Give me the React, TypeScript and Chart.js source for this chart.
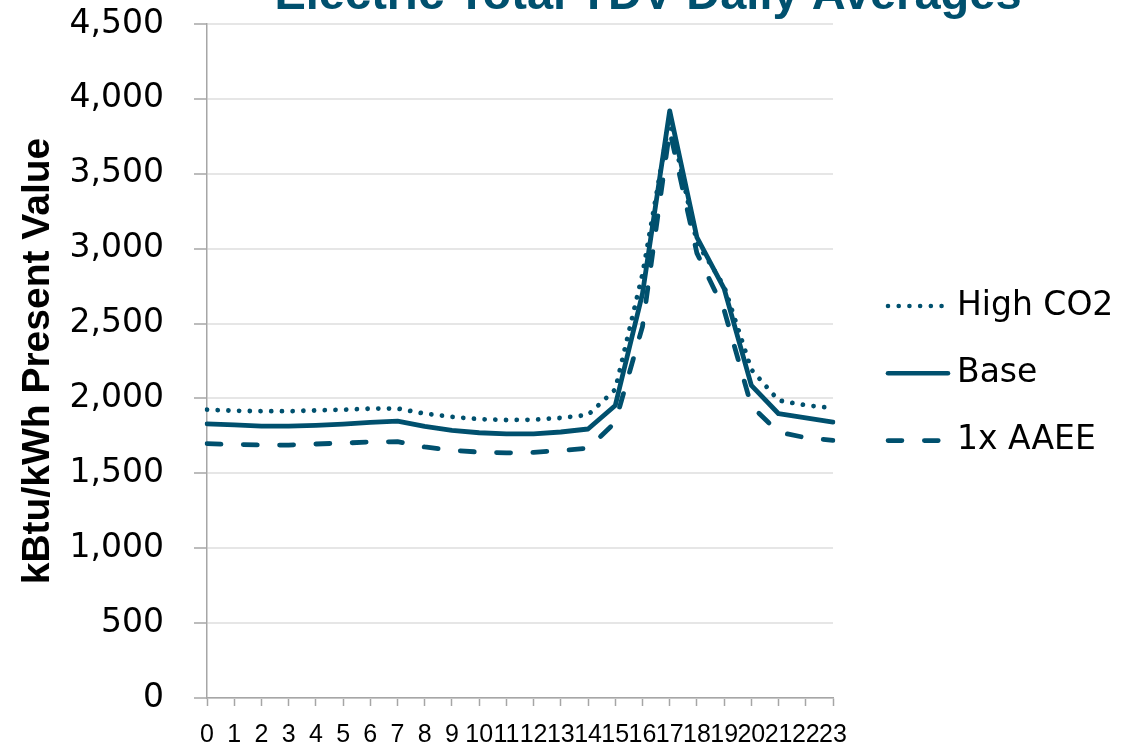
import React, { useEffect, useRef } from 'react';
import { Chart, registerables } from 'chart.js';

Chart.register(...registerables);

// ---- data ----
const HOURS = ['0','1','2','3','4','5','6','7','8','9','10','11','12','13','14','15','16','17','18','19','20','21','22','23'];
const HIGH_CO2 = [1925,1918,1915,1915,1920,1925,1932,1933,1899,1877,1862,1856,1858,1870,1890,2060,2830,3870,3040,2750,2193,1987,1955,1935];
const BASE = [1830,1824,1815,1815,1820,1829,1840,1849,1813,1787,1771,1764,1764,1776,1796,1953,2700,3920,3075,2733,2087,1898,1871,1842];
const AAEE_1X = [1698,1693,1689,1689,1696,1702,1709,1711,1676,1653,1642,1636,1640,1653,1667,1840,2480,3790,2970,2590,1950,1775,1738,1720];
const SERIES_NAMES = ['High CO2', 'Base', '1x AAEE'];
const Y_MIN = 0;
const Y_MAX = 4500;
const Y_STEP = 500;
const CHART_TITLE = 'Electric Total TDV Daily Averages';
const Y_TITLE = 'kBtu/kWh Present Value';

const TEAL = '#00506e';
const AXIS_GRAY = '#a6a6a6';
const GRID_GRAY = '#e6e6e6';

export default function App() {
  const ref = useRef<HTMLCanvasElement | null>(null);

  useEffect(() => {
    document.body.style.margin = '0';
    const canvas = ref.current;
    if (!canvas) return;

    const clippedTitle = {
      id: 'clippedTitle',
      afterDraw(chart: any) {
        const ctx = chart.ctx;
        ctx.save();
        ctx.font = 'bold 47px "Liberation Sans"';
        ctx.fillStyle = TEAL;
        ctx.textAlign = 'center';
        ctx.textBaseline = 'alphabetic';
        ctx.fillText(CHART_TITLE, 648, 9);
        ctx.restore();
      },
    };

    const sideLegend = {
      id: 'sideLegend',
      afterDraw(chart: any) {
        const ctx = chart.ctx;
        const x0 = 888;
        const x1 = 948;
        const tx = 957;
        const top = 306;
        const gap = 67.3;
        chart.data.datasets.forEach((ds: any, i: number) => {
          const y = top + i * gap;
          ctx.save();
          ctx.strokeStyle = ds.borderColor;
          ctx.lineWidth = 4.6;
          ctx.lineCap = 'round';
          ctx.setLineDash(ds.borderDash || []);
          ctx.beginPath();
          ctx.moveTo(x0, y);
          ctx.lineTo(x1, y);
          ctx.stroke();
          ctx.setLineDash([]);
          ctx.font = '33px "DejaVu Sans"';
          ctx.fillStyle = '#000';
          ctx.textAlign = 'left';
          ctx.textBaseline = 'middle';
          ctx.fillText(ds.label, tx, y);
          ctx.restore();
        });
      },
    };

    const lineStyle = {
      borderColor: TEAL,
      borderWidth: 4.8,
      pointRadius: 0,
      pointHoverRadius: 0,
      tension: 0,
      fill: false,
      borderCapStyle: 'round' as const,
      borderJoinStyle: 'round' as const,
    };

    const chart = new Chart(canvas, {
      type: 'line',
      data: {
        labels: HOURS,
        datasets: [
          { ...lineStyle, label: SERIES_NAMES[0], data: HIGH_CO2, borderDash: [0.01, 10.7] },
          { ...lineStyle, label: SERIES_NAMES[1], data: BASE, borderDash: [] },
          { ...lineStyle, label: SERIES_NAMES[2], data: AAEE_1X, borderDash: [14, 22.3] },
        ],
      },
      options: {
        responsive: false,
        animation: false,
        layout: { autoPadding: false, padding: { left: 0, top: 24, right: 292, bottom: 0 } },
        plugins: {
          legend: { display: false },
          title: { display: false },
          tooltip: { enabled: false },
        },
        scales: {
          x: {
            type: 'category',
            offset: false,
            afterFit(scale: any) {
              scale.height = 44;
              scale.paddingLeft = 0;
              scale.paddingRight = 0;
            },
            grid: {
              drawOnChartArea: false,
              drawTicks: true,
              tickLength: 8,
              tickColor: AXIS_GRAY,
              tickWidth: 1.5,
            },
            border: { display: true, color: AXIS_GRAY, width: 1.5 },
            ticks: {
              autoSkip: false,
              maxRotation: 0,
              minRotation: 0,
              padding: 14,
              color: '#000',
              font: { family: 'Liberation Sans', size: 25 },
            },
          },
          y: {
            min: Y_MIN,
            max: Y_MAX,
            afterFit(scale: any) {
              scale.width = 207;
              scale.paddingTop = 0;
              scale.paddingBottom = 0;
            },
            grid: {
              color: GRID_GRAY,
              lineWidth: 2,
              drawTicks: true,
              tickLength: 13,
              tickColor: AXIS_GRAY,
              tickWidth: 1.5,
            },
            border: { display: true, color: AXIS_GRAY, width: 1.5 },
            ticks: {
              stepSize: Y_STEP,
              padding: 30,
              color: '#000',
              font: { family: 'DejaVu Sans', size: 33 },
              callback: (v: any) => Number(v).toLocaleString('en-US'),
            },
            title: {
              display: true,
              text: Y_TITLE,
              color: '#000',
              font: { family: 'Liberation Sans', size: 39, weight: 'bold' },
              padding: { top: 15, bottom: 0 },
            },
          },
        },
      },
      plugins: [clippedTitle, sideLegend],
    });

    return () => chart.destroy();
  }, []);

  return (
    <div style={{ position: 'absolute', left: 0, top: 0, width: 1125, height: 742 }}>
      <canvas ref={ref} width={1125} height={742} style={{ display: 'block', width: 1125, height: 742 }} />
    </div>
  );
}
